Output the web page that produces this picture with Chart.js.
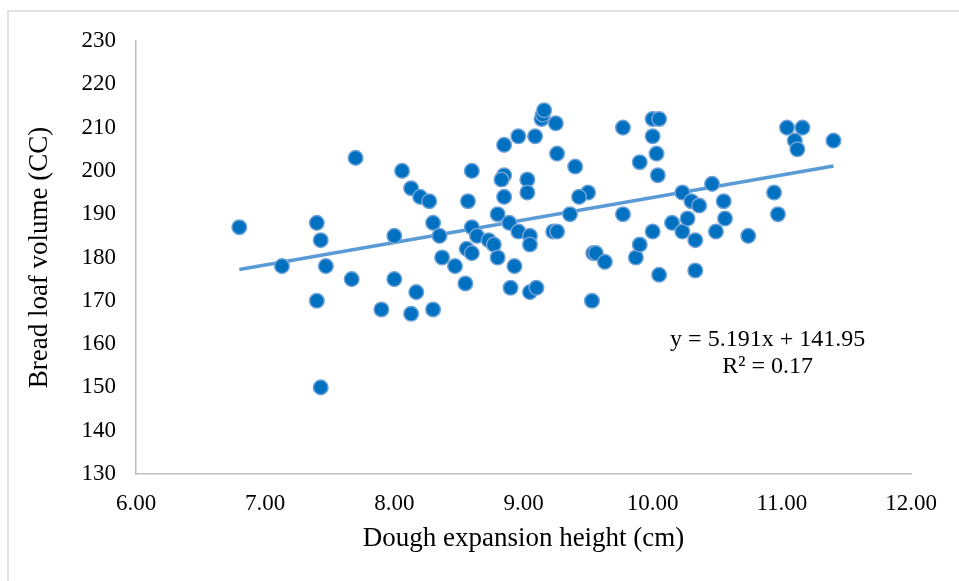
<!DOCTYPE html>
<html>
<head>
<meta charset="utf-8">
<script src="https://cdn.jsdelivr.net/npm/chart.js@4.4.1/dist/chart.umd.min.js"></script>
<style>
  html, body { margin: 0; padding: 0; background: #fff; }
  #wrap { position: relative; width: 959px; height: 581px; }
</style>
</head>
<body>
<div id="wrap"><canvas id="scatter__chart"></canvas></div>
<script>
// Datos del gráfico
const heights = [
  6.80, 7.13, 7.40, 7.43, 7.47, 7.40, 7.43, 7.67, 7.70, 7.90,
  8.00, 8.00, 8.06, 8.13, 8.13, 8.17, 8.20, 8.27, 8.30, 8.30,
  8.35, 8.37, 8.47, 8.55, 8.57, 8.56, 8.60, 8.60, 8.60, 8.64,
  8.73, 8.77, 8.80, 8.80, 8.85, 8.85, 8.83, 8.85, 8.89, 8.93,
  8.90, 8.96, 8.96, 9.03, 9.03, 9.05, 9.05, 9.05, 9.10, 9.09,
  9.14, 9.15, 9.16, 9.25, 9.23, 9.26, 9.26, 9.36, 9.40, 9.50,
  9.43, 9.53, 9.54, 9.56, 9.63, 9.77, 9.77, 9.87, 9.90, 9.90,
  10.00, 10.05, 10.00, 10.00, 10.03, 10.04, 10.05, 10.15, 10.23, 10.23,
  10.27, 10.30, 10.33, 10.33, 10.36, 10.46, 10.49, 10.55, 10.56, 10.74,
  10.94, 10.97, 11.04, 11.16, 11.10, 11.12, 11.40
];
const volumes = [
  187, 178, 188, 184, 178, 170, 150, 175, 203, 168,
  185, 175, 200, 196, 167, 172, 194, 193, 188, 168,
  185, 180, 178, 174, 193, 182, 181, 200, 187, 185,
  184, 183, 190, 180, 206, 199, 198, 194, 188, 178,
  173, 208, 186, 198, 195, 185, 183, 172, 173, 208,
  212, 213, 214, 211, 186, 186, 204, 190, 201, 195,
  194, 170, 181, 181, 179, 210, 190, 180, 202, 183,
  212, 212, 208, 186, 204, 199, 176, 188, 195, 186,
  189, 193, 184, 177, 192, 197, 186, 193, 189, 185,
  195, 190, 210, 210, 207, 205, 207
];

// linea de tendencia (Excel)
const slope = 5.191;
const intercept = 141.95;
const trendText = ['y = 5.191x + 141.95', 'R\u00b2 = 0.17'];

const xTitle = 'Dough expansion height (cm)';
const yTitle = 'Bread loaf volume (CC)';

const points = heights.map((h, i) => ({ x: h, y: volumes[i] }));
const xMin = Math.min(...heights);
const xMax = Math.max(...heights);
const trend = [xMin, xMax].map(x => ({ x: x, y: slope * x + intercept }));

const serif = '"Liberation Serif", "DejaVu Serif", serif';

// marco exterior + ecuación
const extras = {
  id: 'extras',
  beforeDraw(chart) {
    const c = chart.ctx;
    c.save();
    c.strokeStyle = '#d9d9d9';
    c.lineWidth = 1.5;
    c.strokeRect(8, 11, 1000, 620);
    c.restore();
  },
  afterDatasetsDraw(chart) {
    const c = chart.ctx;
    const xs = chart.scales.x;
    const ys = chart.scales.y;
    const cx = xs.getPixelForValue(10.89);
    const cy = ys.getPixelForValue(161.1);
    c.save();
    c.fillStyle = '#000';
    c.font = '24px ' + serif;
    c.textAlign = 'center';
    c.textBaseline = 'middle';
    c.fillText(trendText[0], cx, cy);
    c.fillText(trendText[1], cx, cy + 27);
    c.restore();
  }
};

const ctx = document.getElementById('scatter__chart');

const config = {
  type: 'scatter',
  data: {
    datasets: [{
      label: 'Data',
      data: points,
      backgroundColor: '#0070c0',
      borderColor: '#6fa3d8',
      borderWidth: 1.5,
      pointRadius: 7.3,
      pointHoverRadius: 7.3,
      order: 1
    }, {
      label: 'Trend',
      type: 'line',
      data: trend,
      borderColor: '#5b9bd5',
      borderWidth: 3.5,
      pointRadius: 0,
      fill: false,
      order: 2
    }]
  },
  options: {
    responsive: false,
    animation: false,
    layout: { padding: { left: 20, right: 48, top: 41, bottom: 22 } },
    plugins: {
      legend: { display: false },
      tooltip: { enabled: false }
    },
    scales: {
      x: {
        type: 'linear',
        min: 6, max: 12,
        ticks: {
          stepSize: 1,
          color: '#000',
          font: { family: serif, size: 23 },
          padding: 16,
          callback: v => v.toFixed(2)
        },
        grid: { display: false, drawTicks: false },
        border: { color: '#bfbfbf', width: 1.5 },
        title: {
          display: true,
          text: xTitle,
          color: '#000',
          font: { family: serif, size: 27 },
          padding: { top: 6 }
        },
        afterFit(scale) { scale.height = 581 - 474 - 22; }
      },
      y: {
        min: 130, max: 230,
        ticks: {
          stepSize: 10,
          color: '#000',
          font: { family: serif, size: 23 },
          padding: 20
        },
        grid: { display: false, drawTicks: false },
        border: { color: '#bfbfbf', width: 1.5 },
        title: {
          display: true,
          text: yTitle,
          color: '#000',
          font: { family: serif, size: 27 },
          padding: { bottom: 4 }
        },
        afterFit(scale) { scale.width = 136 - 20; }
      }
    }
  },
  plugins: [extras]
};

ctx.width = 959;
ctx.height = 581;
const myChart = new Chart(ctx, config);
</script>
</body>
</html>
